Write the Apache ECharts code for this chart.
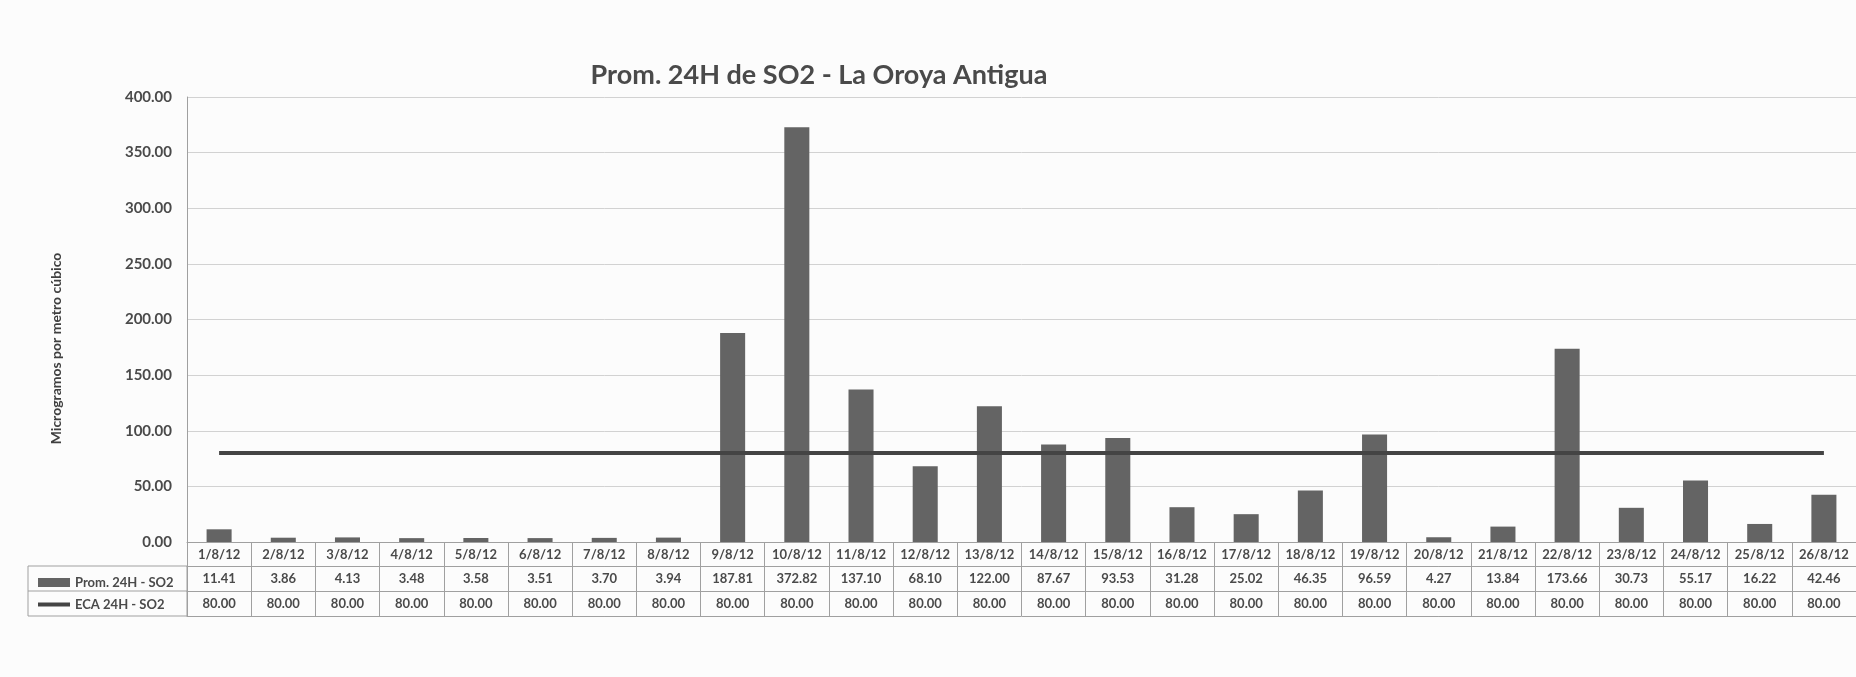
<!DOCTYPE html>
<html>
<head>
<meta charset="utf-8" />
<title>Prom. 24H de SO2 - La Oroya Antigua</title>
<script src="https://cdn.jsdelivr.net/npm/echarts@6/dist/echarts.min.js"></script>
<style>html,body{margin:0;padding:0;background:#fcfcfc;}</style>
</head>
<body>
<div id="main" style="width:1856px;height:677px;"></div>
<script type="text/javascript">
// datos
var fechas = ['1/8/12', '2/8/12', '3/8/12', '4/8/12', '5/8/12', '6/8/12', '7/8/12', '8/8/12', '9/8/12', '10/8/12',
	'11/8/12', '12/8/12', '13/8/12', '14/8/12', '15/8/12', '16/8/12', '17/8/12', '18/8/12', '19/8/12', '20/8/12',
	'21/8/12', '22/8/12', '23/8/12', '24/8/12', '25/8/12', '26/8/12'];
var prom = [11.41, 3.86, 4.13, 3.48, 3.58, 3.51, 3.70, 3.94, 187.81, 372.82,
	137.10, 68.10, 122.00, 87.67, 93.53, 31.28, 25.02, 46.35, 96.59, 4.27,
	13.84, 173.66, 30.73, 55.17, 16.22, 42.46];
var eca = [80, 80, 80, 80, 80, 80, 80, 80, 80, 80,
	80, 80, 80, 80, 80, 80, 80, 80, 80, 80,
	80, 80, 80, 80, 80, 80];

var fuente = 'Lato, "Open Sans", sans-serif';
var gris = '#4a4a4a';
var borde = '#a0a0a0';

var myChart = echarts.init(document.getElementById('main'));

// una fila de la tabla = un eje x extra desplazado hacia abajo
function fila(offset, valores, margen) {
	return {
		type: 'category',
		data: fechas,
		position: 'bottom',
		offset: offset,
		axisLine: { show: true, lineStyle: { color: borde } },
		axisTick: { show: true, length: 25, lineStyle: { color: borde } },
		axisLabel: {
			interval: 0,
			margin: margen,
			fontFamily: fuente,
			fontWeight: 'bold',
			fontSize: 13,
			color: gris,
			formatter: valores ? function(v, i) { return valores[i].toFixed(2); } : null
		}
	};
}

var ejeFechas = fila(0, null, 6);
ejeFechas.axisTick.length = 24;
var ejeProm = fila(24, prom, 6);
var ejeEca = fila(49, eca, 6);
var ejeFin = {
	type: 'category', data: fechas, position: 'bottom', offset: 74,
	axisLine: { show: true, lineStyle: { color: borde } },
	axisTick: { show: false }, axisLabel: { show: false }
};

var option = {
	backgroundColor: '#fcfcfc',
	animation: false,
	title: {
		text: 'Prom. 24H de SO2 - La Oroya Antigua',
		left: 819,
		textAlign: 'center',
		top: 62,
		padding: 0,
		textStyle: { fontFamily: fuente, fontWeight: 'bold', fontSize: 27, color: '#4a4a4a' }
	},
	legend: {
		orient: 'vertical',
		left: 33,
		top: 571,
		itemWidth: 32,
		itemHeight: 9,
		itemGap: 9,
		selectedMode: false,
		textStyle: { fontFamily: fuente, fontWeight: 'bold', fontSize: 13, color: gris },
		data: [
			{ name: 'Prom. 24H - SO2', icon: 'rect' },
			{ name: 'ECA 24H - SO2', icon: 'path://M0,0 H32 V4 H0 Z' }
		]
	},
	grid: { left: 187, top: 97, width: 1670, height: 445 },
	xAxis: [ejeFechas, ejeProm, ejeEca, ejeFin],
	yAxis: {
		type: 'value',
		min: 0,
		max: 400,
		interval: 50,
		name: 'Microgramos por metro cúbico',
		nameLocation: 'middle',
		nameGap: 124,
		nameRotate: 90,
		nameTextStyle: { fontFamily: fuente, fontWeight: 'bold', fontSize: 14, color: '#3f3f3f', padding: [0, 58, 0, 0] },
		axisLine: { show: true, lineStyle: { color: borde } },
		axisTick: { show: false },
		splitLine: { lineStyle: { color: '#d2d2d2' } },
		axisLabel: {
			margin: 15,
			fontFamily: fuente,
			fontWeight: 'bold',
			fontSize: 15,
			color: gris,
			formatter: function(v) { return v.toFixed(2); }
		}
	},
	// bordes de la columna de leyenda de la tabla
	graphic: [
		{ type: 'rect', silent: true, shape: { x: 28, y: 566, width: 159, height: 50 }, style: { fill: 'none', stroke: borde, lineWidth: 1 } },
		{ type: 'line', silent: true, shape: { x1: 28, y1: 591, x2: 187, y2: 591 }, style: { stroke: borde, lineWidth: 1 } }
	],
	series: [
		{
			name: 'Prom. 24H - SO2',
			type: 'bar',
			data: prom,
			barWidth: '39%',
			itemStyle: { color: '#646464' }
		},
		{
			name: 'ECA 24H - SO2',
			type: 'line',
			data: eca,
			symbol: 'none',
			z: 3,
			lineStyle: { width: 4, color: '#444444' },
			itemStyle: { color: '#444444' }
		}
	]
};

myChart.setOption(option);
</script>
</body>
</html>
